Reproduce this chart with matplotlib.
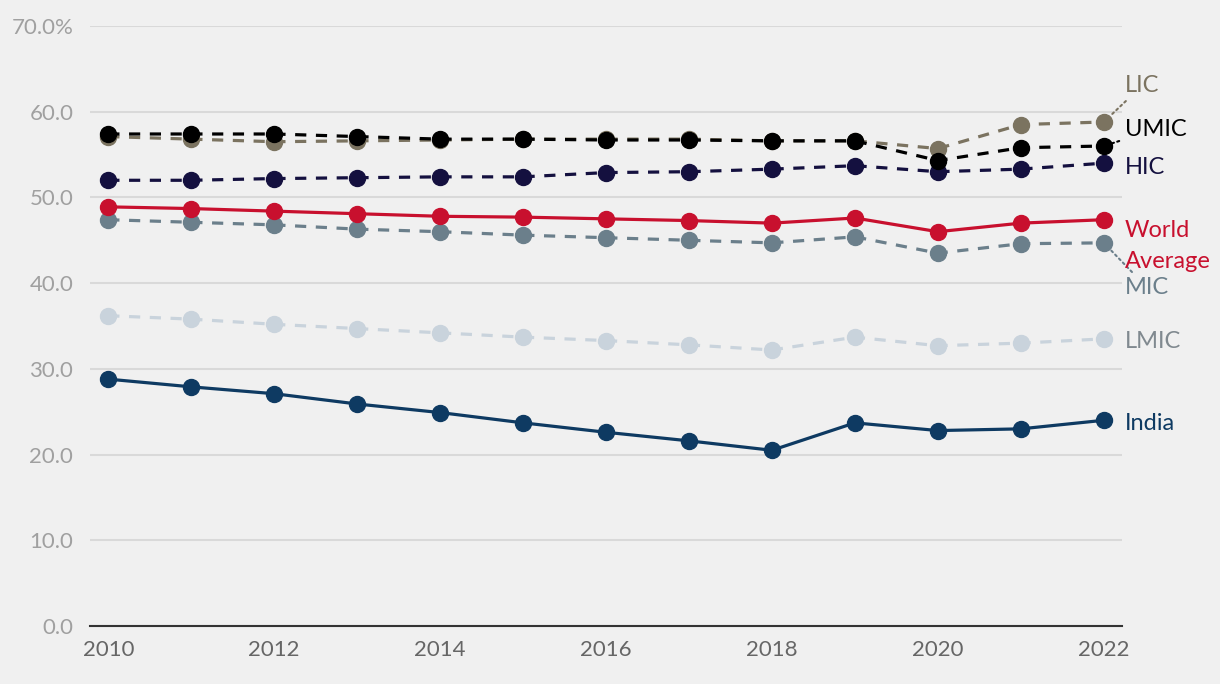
import matplotlib.pyplot as plt

years = list(range(2010, 2023))
lic = [57.1, 56.8, 56.5, 56.6, 56.7, 56.8, 56.8, 56.8, 56.6, 56.6, 55.7, 58.5, 58.8]
umic = [57.4, 57.4, 57.4, 57.1, 56.8, 56.8, 56.7, 56.7, 56.6, 56.6, 54.3, 55.8, 56.0]
hic = [52.0, 52.0, 52.2, 52.3, 52.4, 52.4, 52.9, 53.0, 53.3, 53.7, 53.0, 53.3, 54.0]
world = [48.9, 48.7, 48.4, 48.1, 47.8, 47.7, 47.5, 47.3, 47.0, 47.6, 46.0, 47.0, 47.4]
mic = [47.4, 47.1, 46.8, 46.3, 46.0, 45.6, 45.3, 45.0, 44.7, 45.4, 43.5, 44.6, 44.7]
lmic = [36.2, 35.8, 35.2, 34.7, 34.2, 33.7, 33.3, 32.8, 32.2, 33.7, 32.7, 33.0, 33.5]
india = [28.8, 27.9, 27.1, 25.9, 24.9, 23.7, 22.6, 21.6, 20.5, 23.7, 22.8, 23.0, 24.0]

plt.rcParams['font.family'] = ['Lato', 'DejaVu Sans']

fig = plt.figure(figsize=(12.2, 6.84), dpi=100, facecolor='#f0f0f0')
ax = fig.add_axes([0.0738, 0.0848, 0.8459, 0.8772], facecolor='#f0f0f0')

# (values, line colour, label colour, dashed, label, label offset in points, leader line)
series = [
    (lmic, '#c9d3dc', '#80898f', True, 'LMIC', (15, -2), False),
    (india, '#0e3a62', '#0e3a62', False, 'India', (15, -2), False),
    (mic, '#6b7f8b', '#6b7f8b', True, 'MIC', (15, -32), True),
    (world, '#c8102e', '#c8102e', False, 'World\nAverage', (15, -19), False),
    (hic, '#14103f', '#14103f', True, 'HIC', (15, -3), False),
    (lic, '#7b7360', '#7b7360', True, 'LIC', (15, 26), True),
    (umic, '#000000', '#000000', True, 'UMIC', (15, 12), True),
]

for i, (vals, col, tcol, dashed, lab, off, lead) in enumerate(series):
    ln, = ax.plot(years, vals, color=col, lw=2.3, marker='o', markersize=11.5,
                  zorder=3 + i)
    if dashed:
        ln.set_dashes((3.5, 3))
    arrow = None
    if lead:
        arrow = dict(arrowstyle='-', color=col, lw=1.5, ls=':', shrinkA=2, shrinkB=6)
    ax.annotate(lab, xy=(years[-1], vals[-1]), xytext=off, textcoords='offset points',
                color=tcol, fontsize=17, va='center', ha='left', linespacing=1.6,
                arrowprops=arrow)

ax.set_xlim(2009.78, 2022.22)
ax.set_ylim(0, 70)
ax.set_yticks(range(0, 71, 10))
ax.set_yticklabels(['%.1f' % v for v in range(0, 70, 10)] + ['70.0%'])
ax.set_xticks(range(2010, 2023, 2))
ax.grid(axis='y', color='#d9d9d9', lw=1.5)
ax.set_axisbelow(True)
for s in ['top', 'right', 'left']:
    ax.spines[s].set_visible(False)
ax.spines['bottom'].set_color('#333333')
ax.spines['bottom'].set_linewidth(1.5)
ax.tick_params(axis='y', length=0, pad=12, labelsize=16, labelcolor='#a0a0a0')
ax.tick_params(axis='x', length=0, pad=10, labelsize=16, labelcolor='#666666')

fig.savefig('out.png', dpi=100, facecolor='#f0f0f0')
